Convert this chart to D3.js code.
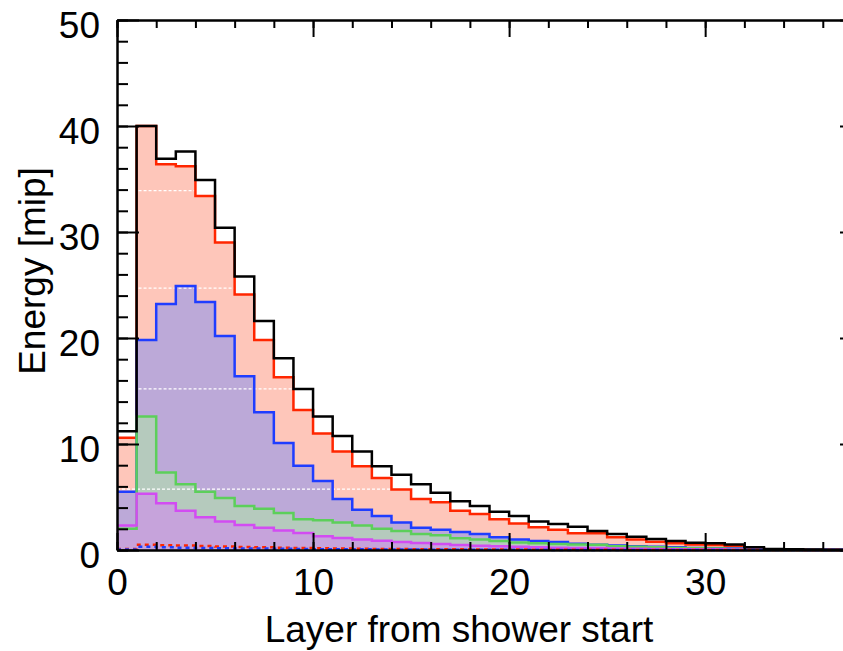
<html>
  <head>
    <style>
      body { margin: 0; background: #fff; }
      text { font-family: "Liberation Sans", Arial, Helvetica, sans-serif; }
    </style>
    <script src="https://cdn.jsdelivr.net/npm/d3@7"></script>
  </head>
  <body>
    <svg id="container" height="651" width="843">
      <defs><clipPath id="redClip"><path id="redClipPath"></path></clipPath></defs>
      <g id="body"></g>
    </svg>
  <script>
    // layer index of each bin (bin i covers [i, i+1])
    const layers = d3.range(0, 38);

    const totalEnergy = [11.2, 40.0, 36.9, 37.6, 34.9, 30.4, 25.8, 21.6, 18.1, 15.2, 12.6, 10.75, 9.3, 7.9, 7.1, 6.2, 5.4, 4.6, 4.15, 3.6,
      3.2, 2.7, 2.45, 2.2, 1.8, 1.5, 1.25, 1.04, 0.85, 0.69, 0.63, 0.53, 0.25, 0.1, 0.06, 0.04, 0.03, 0.02];
    const redEnergy = [10.6, 40.0, 36.4, 36.2, 33.4, 29.0, 24.1, 19.8, 16.3, 13.2, 11.0, 9.3, 7.9, 6.8, 5.7, 4.8, 4.5, 3.7, 3.4, 2.9,
      2.5, 2.14, 1.9, 1.57, 1.57, 1.2, 1.0, 0.79, 0.63, 0.53, 0.47, 0.38, 0.16, 0.08, 0.05, 0.03, 0.02, 0.01];
    const blueEnergy = [5.5, 19.8, 23.2, 24.9, 23.4, 20.2, 16.4, 13.0, 10.1, 7.95, 6.5, 4.8, 3.8, 3.2, 2.6, 2.1, 1.9, 1.7, 1.5, 1.2,
      1.0, 0.85, 0.75, 0.6, 0.5, 0.42, 0.36, 0.3, 0.25, 0.2, 0.17, 0.14, 0.1, 0.06, 0.04, 0.03, 0.02, 0.01];
    const greenEnergy = [2.0, 12.6, 7.3, 6.2, 5.5, 4.9, 4.15, 3.9, 3.5, 2.9, 2.8, 2.6, 2.3, 2.0, 1.8, 1.5, 1.4, 1.1, 1.0, 0.85,
      0.7, 0.63, 0.57, 0.52, 0.5, 0.35, 0.3, 0.25, 0.2, 0.16, 0.13, 0.1, 0.07, 0.05, 0.03, 0.02, 0.01, 0.01];
    const magentaEnergy = [2.3, 5.3, 4.4, 3.7, 3.1, 2.7, 2.36, 2.1, 1.85, 1.6, 1.3, 1.13, 1.0, 0.88, 0.75, 0.66, 0.57, 0.47, 0.4, 0.35,
      0.3, 0.25, 0.22, 0.2, 0.18, 0.15, 0.12, 0.1, 0.08, 0.07, 0.06, 0.05, 0.04, 0.03, 0.02, 0.01, 0.01, 0.0];
    const redDashEnergy = [0.1, 0.5, 0.45, 0.42, 0.38, 0.33, 0.29, 0.25, 0.22, 0.19, 0.16, 0.14, 0.12, 0.1, 0.09, 0.08, 0.07, 0.06, 0.05, 0.04,
      0.04, 0.03, 0.03, 0.02, 0.02, 0.02, 0.01, 0.01, 0.01, 0.01, 0.01, 0.01, 0.0, 0.0, 0.0, 0.0, 0.0, 0.0];
    const blueDashEnergy = [0.05, 0.3, 0.25, 0.22, 0.2, 0.17, 0.15, 0.13, 0.11, 0.1, 0.08, 0.07, 0.06, 0.05, 0.05, 0.04, 0.03, 0.03, 0.02, 0.02,
      0.02, 0.02, 0.01, 0.01, 0.01, 0.01, 0.01, 0.0, 0.0, 0.0, 0.0, 0.0, 0.0, 0.0, 0.0, 0.0, 0.0, 0.0];

    const yMajorTicks = [0, 10, 20, 30, 40, 50];
    const xMajorTicks = [0, 10, 20, 30];
    // faint white dashed streaks seen inside the red fill
    const streakLevels = [33.9, 24.7, 15.2, 5.75];

    let body = d3.select("#body");

    const x = d3.scaleLinear().domain([0, 38]).range([117, 862]);
    const y = d3.scaleLinear().domain([0, 50]).range([550, 20]);

    // step points: value v[i] from layer i to i+1
    function steps(values) {
      let pts = layers.map((l, i) => [l, values[i]]);
      pts.push([layers.length, values[values.length - 1]]);
      return pts;
    }

    const area = d3.area().curve(d3.curveStepAfter)
      .x(d => x(d[0])).y0(y(0)).y1(d => y(d[1]));
    const line = d3.line().curve(d3.curveStepAfter)
      .x(d => x(d[0])).y(d => y(d[1]));

    // filled histograms
    const fills = [
      [redEnergy, "#fec6ba"],
      [blueEnergy, "#bca9d8"],
      [greenEnergy, "#b5cabd"],
      [magentaEnergy, "#c6a3db"]
    ];
    body.selectAll("path.fill")
      .data(fills)
      .enter()
      .append("path")
      .attr("class", "fill")
      .attr("d", d => area(steps(d[0])))
      .attr("fill", d => d[1]);

    d3.select("#redClipPath").attr("d", area(steps(redEnergy)));
    body.append("g")
      .attr("clip-path", "url(#redClip)")
      .selectAll("line")
      .data(streakLevels)
      .enter()
      .append("line")
      .attr("x1", d => d > 11 ? x(1.1) : x(0))
      .attr("x2", x(38))
      .attr("y1", d => y(d))
      .attr("y2", d => y(d))
      .attr("stroke", "#ffffff")
      .attr("stroke-width", 1.2)
      .attr("stroke-dasharray", "3,2");

    // outlines
    const outlines = [
      [redEnergy, "#ff2600", null],
      [blueEnergy, "#1f3dff", null],
      [greenEnergy, "#5ccf5a", null],
      [magentaEnergy, "#d24cf2", null],
      [redDashEnergy, "#ff2600", "4,4"],
      [blueDashEnergy, "#1f3dff", "4,4"],
      [totalEnergy, "#000000", null]
    ];
    body.selectAll("path.outline")
      .data(outlines)
      .enter()
      .append("path")
      .attr("class", "outline")
      .attr("d", d => line(steps(d[0])))
      .attr("fill", "none")
      .attr("stroke", d => d[1])
      .attr("stroke-width", 2.5)
      .attr("stroke-dasharray", d => d[2]);

    // axes, ticks pointing inward
    function styleAxis(g) {
      g.select(".domain").attr("stroke-width", 2);
      g.selectAll(".tick line").attr("stroke-width", 2);
      g.selectAll("text").style("font-size", "37px").attr("fill", "#000");
    }

    body.append("g")
      .attr("transform", `translate(${x(0)},0)`)
      .call(d3.axisLeft(y).tickValues(d3.range(0, 51, 2)).tickSize(-11).tickSizeOuter(0).tickFormat(""))
      .call(styleAxis);
    body.append("g")
      .attr("transform", `translate(${x(0)},0)`)
      .call(d3.axisLeft(y).tickValues(yMajorTicks).tickSize(-22).tickSizeOuter(0).tickPadding(17).tickFormat(d3.format("d")))
      .call(styleAxis)
      .call(g => g.selectAll("text").attr("dy", "0.48em"));

    body.append("g")
      .attr("transform", `translate(${x(38)},0)`)
      .call(d3.axisLeft(y).tickValues(d3.range(0, 51, 2)).tickSize(11).tickSizeOuter(0).tickFormat(""))
      .call(styleAxis);
    body.append("g")
      .attr("transform", `translate(${x(38)},0)`)
      .call(d3.axisLeft(y).tickValues(yMajorTicks).tickSize(22).tickSizeOuter(0).tickFormat(""))
      .call(styleAxis);

    body.append("g")
      .attr("transform", `translate(0,${y(0)})`)
      .call(d3.axisBottom(x).tickValues(d3.range(0, 39, 2)).tickSize(-8).tickSizeOuter(0).tickFormat(""))
      .call(styleAxis);
    body.append("g")
      .attr("transform", `translate(0,${y(0)})`)
      .call(d3.axisBottom(x).tickValues(xMajorTicks).tickSize(-17).tickSizeOuter(0).tickPadding(19).tickFormat(d3.format("d")))
      .call(styleAxis);

    body.append("g")
      .attr("transform", `translate(0,${y(50)})`)
      .call(d3.axisTop(x).tickValues(d3.range(0, 39, 2)).tickSize(-8).tickSizeOuter(0).tickFormat(""))
      .call(styleAxis);
    body.append("g")
      .attr("transform", `translate(0,${y(50)})`)
      .call(d3.axisTop(x).tickValues(xMajorTicks).tickSize(-17).tickSizeOuter(0).tickFormat(""))
      .call(styleAxis);

    // axis titles
    body.append("text")
      .attr("x", 459)
      .attr("y", 642)
      .attr("text-anchor", "middle")
      .style("font-size", "37px")
      .text("Layer from shower start");

    body.append("text")
      .attr("transform", "translate(45,271) rotate(-90)")
      .attr("text-anchor", "middle")
      .style("font-size", "37px")
      .text("Energy [mip]");
  </script>
  </body>
</html>
